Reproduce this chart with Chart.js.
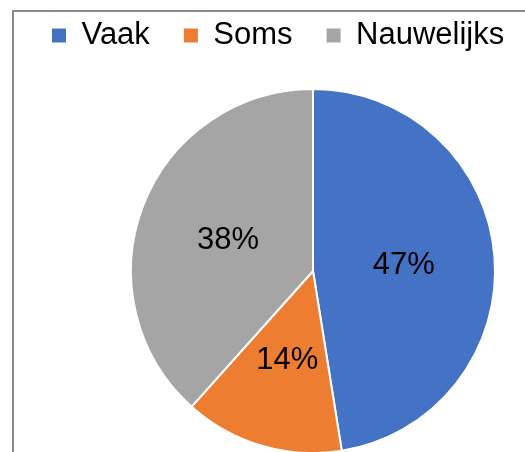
<!DOCTYPE html>
<html>
<head>
<meta charset="utf-8">
<script src="https://cdn.jsdelivr.net/npm/chart.js@4"></script>
<style>
  html, body { margin: 0; padding: 0; background: #fff; overflow: hidden; }
  #frame { position: absolute; left: 12px; top: 10px; width: 600px; height: 600px; border: 2px solid #8c8c8c; }
  #wrap { position: absolute; left: 0; top: 0; width: 525px; height: 452px; }
</style>
</head>
<body>
<div id="frame"></div>
<div id="wrap"><canvas id="chart" width="525" height="452"></canvas></div>
<script>
// categories + values
const labels = ["Vaak", "Soms", "Nauwelijks"];
const values = [47, 14, 38];
const colors = ["#4472C4", "#ED7D31", "#A5A5A5"];

// where the pie sits on the canvas
const pieCx = 313, pieCy = 271, pieR = 183;

const placePie = {
  id: "placePie",
  afterLayout(chart) {
    chart.chartArea = {
      left: pieCx - pieR, right: pieCx + pieR,
      top: pieCy - pieR, bottom: pieCy + pieR,
      width: pieR * 2, height: pieR * 2
    };
  }
};

const pctLabels = {
  id: "pctLabels",
  afterDatasetsDraw(chart) {
    const ctx = chart.ctx;
    const meta = chart.getDatasetMeta(0);
    const total = values.reduce((a, b) => a + b, 0);
    ctx.save();
    ctx.font = "31px 'Liberation Sans', Arial, sans-serif";
    ctx.fillStyle = "#000";
    ctx.textAlign = "center";
    ctx.textBaseline = "middle";
    meta.data.forEach((arc, i) => {
      const p = arc.getProps(["x", "y", "startAngle", "endAngle", "outerRadius"], true);
      const mid = (p.startAngle + p.endAngle) / 2;
      const r = p.outerRadius * 0.5;
      const txt = Math.round(values[i] / total * 100) + "%";
      ctx.fillText(txt, p.x + Math.cos(mid) * r, p.y + Math.sin(mid) * r + 2);
    });
    ctx.restore();
  }
};

const baseLabels = Chart.overrides.pie.plugins.legend.labels.generateLabels;

new Chart(document.getElementById("chart"), {
  type: "pie",
  data: {
    labels,
    datasets: [{
      data: values,
      backgroundColor: colors,
      borderColor: "#fff",
      borderWidth: 2
    }]
  },
  options: {
    responsive: false,
    animation: false,
    // legend row sits high and wide, the pie is placed by placePie
    layout: { padding: { left: 18, top: -14, right: -150 } },
    plugins: {
      tooltip: { enabled: false },
      legend: {
        position: "top",
        align: "start",
        labels: {
          boxWidth: 14,
          boxHeight: 14,
          padding: 34,
          color: "#000",
          font: { family: "'Liberation Sans', Arial, sans-serif", size: 31 },
          generateLabels(chart) {
            return baseLabels(chart).map(l => ({ ...l, lineWidth: 0 }));
          }
        }
      }
    }
  },
  plugins: [placePie, pctLabels]
});
</script>
</body>
</html>
